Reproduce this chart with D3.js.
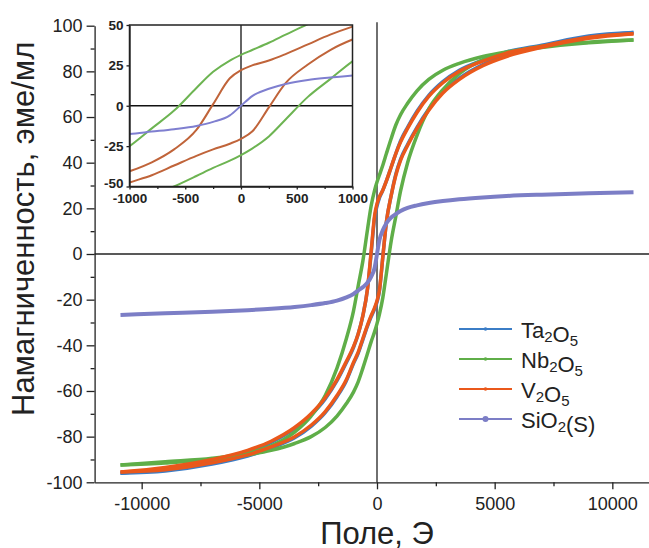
<!DOCTYPE html>
<html>
<head>
<meta charset="utf-8">
<script src="https://cdn.jsdelivr.net/npm/d3@7"></script>
<style>
  body { margin: 0; background: #fff; }
  svg text { font-family: "Liberation Sans", Arial, sans-serif; fill: #222; }
</style>
</head>
<body>
<svg id="chart" width="649" height="548"></svg>
<script>
// field points (Oe), shared by every branch
const field = [-10900, -9000, -7000, -5500, -4500, -3500, -2800, -2200, -1700, -1300, -1000, -800, -600, -400, -250, -100,
  0, 100, 250, 400, 600, 800, 1000, 1300, 1700, 2200, 2800, 3500, 4500, 5500, 7000, 9000, 10900]

// descending (upper) and ascending (lower) branches, emu/ml
const taUp = [-96, -94, -90.5, -86.5, -82.5, -76.5, -70.5, -63.5, -55.5, -47.5, -41, -35, -27, -15, 0, 16,
  21, 24.5, 28, 32, 38, 44, 49.5, 55.5, 62.5, 69.5, 75.5, 80.5, 85, 88.5, 91.5, 95.5, 97]
const taLow = [-96, -95, -92, -88.5, -85, -80.5, -75.5, -69.5, -62.5, -55.5, -48, -43.5, -37.5, -31.5, -27.5, -24,
  -21, -16.5, -1, 14, 25.5, 35, 41.5, 48, 55.5, 63.5, 71, 77, 83, 87, 91, 95, 97]
const nbUp = [-92.4, -91, -89.5, -87, -84, -78, -71, -62, -50, -37, -25, -14, -3, 11, 21, 28,
  31.5, 34.5, 39, 44, 50.5, 56.5, 61, 66, 71.5, 76.5, 80.5, 83.5, 86.5, 88.5, 90.5, 92.5, 93.7]
const nbLow = [-92.4, -91.5, -90, -88, -86, -83, -80, -76, -71, -65.5, -60.5, -56, -50, -43.5, -38.5, -34,
  -30.5, -26.5, -19, -8.5, 5.5, 16.5, 27.5, 40, 52, 63.5, 72, 79, 85, 88, 91, 92.8, 93.7]
const vUp = [-95.5, -93.5, -90, -86, -82, -76, -70, -63, -55, -47, -40.6, -35, -27, -15, 1, 17,
  22, 25, 28, 32, 38, 44, 49, 55, 62, 69, 75, 80, 84.5, 88, 91, 95, 96.5]
const vLow = [-95.5, -94.5, -91.5, -88, -84.5, -80, -75, -69, -62, -55, -47.5, -43, -37, -31, -27, -23.5,
  -20.5, -16, -1, 14, 25.5, 34.5, 41, 47.5, 55, 63, 70.5, 76.5, 82.5, 86.5, 90.5, 94.5, 96.5]
const siM = [-26.7, -26, -25.3, -24.6, -24, -23.2, -22.4, -21.5, -20.4, -19, -17.5, -16, -14.5, -12.5, -10, -6,
  0, 6, 10.5, 13.5, 16, 17.5, 18.8, 20.2, 21.3, 22.3, 23.2, 24, 24.8, 25.4, 26, 26.6, 27.1]

const names = ['Ta2O5', 'Nb2O5', 'V2O5', 'SiO2(S)']
const xTicks = [-10000, -5000, 0, 5000, 10000]
const yTicks = [-100, -80, -60, -40, -20, 0, 20, 40, 60, 80, 100]
const insetXTicks = [-1000, -500, 0, 500, 1000]
const insetYTicks = [-50, -25, 0, 25, 50]

const series = [
  { name: names[0], branches: [taUp, taLow], color: '#3b7dc6', inset: null },
  { name: names[1], branches: [nbUp, nbLow], color: '#5fae48', inset: '#6db452' },
  { name: names[2], branches: [vUp, vLow], color: '#ea581b', inset: '#c0643a' },
  { name: names[3], branches: [siM], color: '#7c7ec6', inset: '#7f7fd0' }
]

const svg = d3.select('#chart')
const fmt = d => String(d)

const x = d3.scaleLinear().domain([-12000, 12000]).range([94.6, 659.4])
const y = d3.scaleLinear().domain([-100, 100]).range([482.3, 25.7])

// zero lines
svg.append('line')
  .attr('x1', x(-12000)).attr('x2', x(12000))
  .attr('y1', y(0)).attr('y2', y(0))
  .attr('stroke', '#222').attr('stroke-width', 1.3)
svg.append('line')
  .attr('x1', x(0)).attr('x2', x(0))
  .attr('y1', y(101.5)).attr('y2', y(-100))
  .attr('stroke', '#222').attr('stroke-width', 1.3)

// axes
const styleAxis = (g, size) => {
  g.selectAll('path,line').attr('stroke', '#222').attr('stroke-width', 1.3)
  g.selectAll('text').style('font-size', size + 'px').attr('fill', '#222')
}
const xAxis = svg.append('g').attr('transform', `translate(0,${y(-100)})`)
xAxis.call(d3.axisBottom(x).tickValues(xTicks).tickFormat(fmt).tickSize(7).tickPadding(8).tickSizeOuter(0))
xAxis.append('g').call(d3.axisBottom(x).tickValues([-7500, -2500, 2500, 7500]).tickFormat('').tickSize(4))
  .select('.domain').remove()
styleAxis(xAxis, 18)

const yAxis = svg.append('g').attr('transform', `translate(${x(-12000)},0)`)
yAxis.call(d3.axisLeft(y).tickValues(yTicks).tickFormat(fmt).tickSize(8).tickPadding(4).tickSizeOuter(0))
yAxis.append('g').call(d3.axisLeft(y).tickValues(d3.range(-90, 91, 20)).tickFormat('').tickSize(4))
  .select('.domain').remove()
styleAxis(yAxis, 18)

svg.append('text').attr('x', x(0)).attr('y', 544).attr('text-anchor', 'middle')
  .style('font-size', '31px').text('Поле, Э')
svg.append('text').attr('transform', `translate(34,${y(11)}) rotate(-90)`).attr('text-anchor', 'middle')
  .style('font-size', '31px').text('Намагниченность, эме/мл')

// main curves
const mainLine = d3.line().x((d, i) => x(field[i])).y(d => y(d)).curve(d3.curveMonotoneX)
series.forEach(s => {
  s.branches.forEach(b => {
    svg.append('path').datum(b).attr('d', mainLine)
      .attr('fill', 'none').attr('stroke', s.color)
      .attr('stroke-width', s.name === names[3] ? 4 : 3.5)
  })
})

// legend
const lg = svg.append('g')
series.forEach((s, i) => {
  const ly = 329 + i * 30
  lg.append('line').attr('x1', 459).attr('x2', 512).attr('y1', ly).attr('y2', ly)
    .attr('stroke', s.color).attr('stroke-width', 2)
  lg.append('circle').attr('cx', 485.5).attr('cy', ly).attr('r', i === 3 ? 3 : 1.8).attr('fill', s.color)
  const t = lg.append('text').attr('x', 521).attr('y', ly + 8.5).style('font-size', '22px')
  s.name.split(/(\d)/).filter(p => p).forEach(p => {
    if (/\d/.test(p)) {
      t.append('tspan').attr('dy', 4).style('font-size', '15px').text(p)
      t.append('tspan').attr('dy', -4).text('')
    } else {
      t.append('tspan').text(p)
    }
  })
})

// inset
const ix = d3.scaleLinear().domain([-1000, 1000]).range([129.5, 352.5])
const iy = d3.scaleLinear().domain([-50, 50]).range([186.5, 25])
const inset = svg.append('g')
inset.append('rect').attr('x', ix(-1000)).attr('y', iy(50))
  .attr('width', ix(1000) - ix(-1000)).attr('height', iy(-50) - iy(50)).attr('fill', '#fff')
svg.append('clipPath').attr('id', 'inclip').append('rect')
  .attr('x', ix(-1000)).attr('y', iy(50))
  .attr('width', ix(1000) - ix(-1000)).attr('height', iy(-50) - iy(50))

const inner = inset.append('g').attr('clip-path', 'url(#inclip)')
inner.append('line').attr('x1', ix(-1000)).attr('x2', ix(1000)).attr('y1', iy(0)).attr('y2', iy(0))
  .attr('stroke', '#111').attr('stroke-width', 1.3)
inner.append('line').attr('x1', ix(0)).attr('x2', ix(0)).attr('y1', iy(50)).attr('y2', iy(-50))
  .attr('stroke', '#111').attr('stroke-width', 1.3)
const insetLine = d3.line().x((d, i) => ix(field[i])).y(d => iy(d)).curve(d3.curveMonotoneX)
series.filter(s => s.inset).forEach(s => {
  s.branches.forEach(b => {
    inner.append('path').datum(b).attr('d', insetLine)
      .attr('fill', 'none').attr('stroke', s.inset).attr('stroke-width', 2)
  })
})
inset.append('rect').attr('x', ix(-1000)).attr('y', iy(50))
  .attr('width', ix(1000) - ix(-1000)).attr('height', iy(-50) - iy(50))
  .attr('fill', 'none').attr('stroke', '#222').attr('stroke-width', 1.5)

const ixAxis = inset.append('g').attr('transform', `translate(0,${iy(-50)})`)
ixAxis.call(d3.axisBottom(ix).tickValues(insetXTicks).tickFormat(fmt).tickSize(3).tickPadding(3.5).tickSizeOuter(0))
ixAxis.append('g').call(d3.axisBottom(ix).tickValues([-750, -250, 250, 750]).tickFormat('').tickSize(2.5))
  .select('.domain').remove()
styleAxis(ixAxis, 13.5)
ixAxis.selectAll('text').style('font-weight', 'bold').attr('fill', '#333')

const iyAxis = inset.append('g').attr('transform', `translate(${ix(-1000)},0)`)
iyAxis.call(d3.axisLeft(iy).tickValues(insetYTicks).tickFormat(fmt).tickSize(3).tickPadding(3).tickSizeOuter(0))
styleAxis(iyAxis, 13.5)
iyAxis.selectAll('text').style('font-weight', 'bold').attr('fill', '#333')
// nudge the bottom inset y label up so it clears the -1000 label
iyAxis.selectAll('.tick').filter(d => d === -50).select('text').attr('dy', '0.1em')
</script>
</body>
</html>
